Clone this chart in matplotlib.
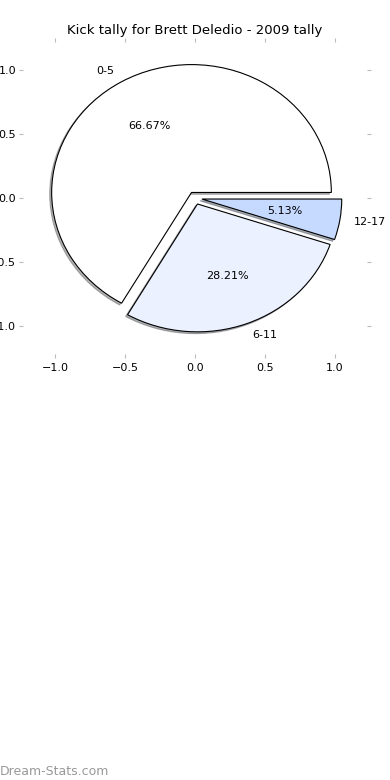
import matplotlib
matplotlib.use('Agg')
import matplotlib.pyplot as plt

labels = ['0-5', '6-11', '12-17']
kicks = [26, 11, 2]
colors = ['#ffffff', '#ebf1fe', '#c6d9fe']
explode = [0.05, 0.05, 0.05]

fig = plt.figure(figsize=(3.9, 7.8), dpi=100)
# axes placed in pixels: left 23, right 367, top 42, bottom 354
ax = fig.add_axes([23 / 390, 1 - 354 / 780, 344 / 390, 312 / 780])

wedges, texts, autotexts = ax.pie(kicks, labels=labels, colors=colors, explode=explode,
                                  autopct='%1.2f%%', startangle=0,
                                  shadow={'ox': -0.01, 'oy': -0.01, 'shade': 0.6},
                                  wedgeprops={'edgecolor': 'black', 'linewidth': 0.8},
                                  textprops={'fontsize': 8})
ax.set_aspect('auto')
ax.set_xlim(-1.23, 1.23)
ax.set_ylim(-1.22, 1.22)
ax.set_xticks([-1.0, -0.5, 0.0, 0.5, 1.0])
ax.set_yticks([-1.0, -0.5, 0.0, 0.5, 1.0])
ax.set_xticklabels(['\u22121.0', '\u22120.5', '0.0', '0.5', '1.0'])
ax.set_yticklabels(['\u22121.0', '\u22120.5', '0.0', '0.5', '1.0'])
ax.tick_params(labelsize=8, color='#bbbbbb', length=3, top=True, right=True, direction='out')
ax.tick_params(axis='y', pad=2)
ax.set_frame_on(False)
ax.set_title('Kick tally for Brett Deledio - 2009 tally', fontsize=9.5)

fig.text(0.0, 0.006, 'Dream-Stats.com', fontsize=9, color='#999999')

fig.savefig('out.png', dpi=100)
